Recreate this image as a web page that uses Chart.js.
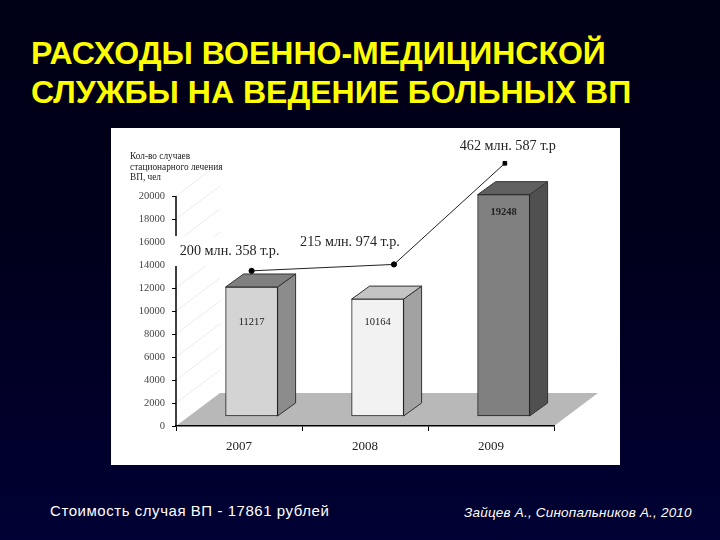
<!DOCTYPE html>
<html lang="ru">
<head>
<meta charset="utf-8">
<script src="https://cdn.jsdelivr.net/npm/chart.js@4"></script>
<style>
html,body{margin:0;padding:0;width:720px;height:540px;overflow:hidden;background:linear-gradient(180deg,#000016 0%,#00001c 45%,#000034 100%);}
canvas{position:absolute;left:0;top:0;}
.t{position:absolute;font-family:"Liberation Sans",Arial,sans-serif;white-space:nowrap;}
#title{left:31px;top:34px;color:#ffff00;font-weight:bold;font-size:32px;line-height:39px;}
#f1{left:50px;top:502px;color:#fff;font-size:15px;line-height:18px;letter-spacing:.55px;}
#f2{left:464px;top:505px;color:#fff;font-size:13.5px;line-height:16px;font-style:italic;letter-spacing:.2px;}
</style>
</head>
<body>
<div class="t" id="title">РАСХОДЫ ВОЕННО-МЕДИЦИНСКОЙ<br>СЛУЖБЫ НА ВЕДЕНИЕ БОЛЬНЫХ ВП</div>
<div class="t" id="f1">Стоимость случая ВП - 17861 рублей</div>
<div class="t" id="f2">Зайцев А., Синопальников А., 2010</div>
<div style="position:absolute;left:0;top:0;width:720px;height:540px"><canvas id="c" width="720" height="540"></canvas></div>
<script>
const categories = ['2007', '2008', '2009'];
const years = [2007, 2008, 2009];
const cases = [11217, 10164, 19248];
const costs = [200.358, 215.974, 462.587];
const costYearPos = [2007.0, 2008.13, 2009.01];
const costLabels = ['200 млн. 358 т.р.', '215 млн. 974 т.р.', '462 млн. 587 т.р'];
const axisTitleLines = ['Кол-во случаев', 'стационарного лечения', 'ВП, чел'];
const frontColors = ['#d4d4d4', '#f2f2f2', '#808080'];
const sideColors = ['#8c8c8c', '#a2a2a2', '#505050'];
const topColors = ['#808080', '#c4c4c4', '#606060'];
const costLabelOffsets = [[-22, -20], [-44, -22], [3, -17]];
const valueLabelDrops = [35, 23, 18];
const valueLabelBold = [false, false, true];
const axisTop = 20000;
const DX = 18, DY = 13, FX = 44, FY = 33;
const serif = '"Liberation Serif","Times New Roman",serif';

function poly(ctx, pts, fill, stroke) {
  ctx.beginPath();
  pts.forEach((p, i) => i ? ctx.lineTo(p[0], p[1]) : ctx.moveTo(p[0], p[1]));
  ctx.closePath();
  ctx.fillStyle = fill; ctx.fill();
  if (stroke) { ctx.strokeStyle = stroke; ctx.lineWidth = 1; ctx.stroke(); }
}

const scenePlugin = {
  id: 'scene',
  beforeDraw(chart) {
    const ctx = chart.ctx, a = chart.chartArea, ys = chart.scales.y;
    ctx.save();
    ctx.fillStyle = '#fff';
    ctx.fillRect(111, 128, 509, 337);
    ctx.strokeStyle = '#ececec'; ctx.lineWidth = 1;
    ys.ticks.forEach(t => {
      const y = ys.getPixelForValue(t.value);
      if (t.value === 0) return;
      ctx.beginPath(); ctx.moveTo(a.left, y); ctx.lineTo(a.left + FX, y - FY); ctx.stroke();
    });
    poly(ctx, [[a.left, a.bottom], [a.right, a.bottom], [a.right + FX, a.bottom - FY], [a.left + FX, a.bottom - FY]], '#b8b8b8');
    ctx.strokeStyle = '#000'; ctx.lineWidth = 1.5;
    ctx.beginPath(); ctx.moveTo(a.left, ys.getPixelForValue(axisTop)); ctx.lineTo(a.left, a.bottom); ctx.stroke();
    ctx.restore();
  },
  beforeDatasetDraw(chart, args) {
    if (args.index !== 0) return;
    const ctx = chart.ctx;
    ctx.save();
    chart.getDatasetMeta(0).data.forEach((b, i) => {
      const l = b.x - b.width / 2, r = b.x + b.width / 2, t = b.y, bt = b.base;
      poly(ctx, [[r, t], [r + DX, t - DY], [r + DX, bt - DY], [r, bt]], sideColors[i], '#333');
      poly(ctx, [[l, t], [l + DX, t - DY], [r + DX, t - DY], [r, t]], topColors[i], '#333');
    });
    ctx.restore();
  },
  afterDraw(chart) {
    const ctx = chart.ctx, ys = chart.scales.y;
    ctx.save();
    // white box behind the first cost label interrupts the value axis
    ctx.fillStyle = '#fff';
    ctx.fillRect(171, 236, 114, 30);
    ctx.textAlign = 'center'; ctx.textBaseline = 'middle';
    chart.getDatasetMeta(0).data.forEach((b, i) => {
      ctx.font = (valueLabelBold[i] ? 'bold ' : '') + '10.5px ' + serif;
      ctx.fillStyle = '#222';
      ctx.fillText(String(cases[i]), b.x, b.y + valueLabelDrops[i]);
    });
    ctx.font = '14.2px ' + serif;
    ctx.fillStyle = '#222';
    chart.getDatasetMeta(1).data.forEach((p, i) => {
      ctx.fillText(costLabels[i], p.x + costLabelOffsets[i][0], p.y + costLabelOffsets[i][1]);
    });
    ctx.textAlign = 'left';
    ctx.font = '9.3px ' + serif;
    const top = ys.getPixelForValue(axisTop);
    axisTitleLines.forEach((s, i) => ctx.fillText(s, 130, top - 39 + i * 10.2));
    ctx.restore();
  }
};

new Chart(document.getElementById('c'), {
  data: {
    labels: categories,
    datasets: [
      {
        type: 'bar', label: 'Кол-во случаев', order: 2,
        data: years.map((x, i) => ({ x, y: cases[i] })),
        xAxisID: 'xBar', yAxisID: 'yBar',
        backgroundColor: frontColors, borderColor: '#222', borderWidth: 1,
        borderSkipped: false, barThickness: 52
      },
      {
        type: 'line', label: 'Расходы', order: 1,
        data: costYearPos.map((x, i) => ({ x, y: costs[i] })),
        xAxisID: 'xBar', yAxisID: 'yCost', clip: false,
        borderColor: '#222', borderWidth: 1, tension: 0,
        pointRadius: 2.6, pointBackgroundColor: '#000', pointBorderColor: '#000',
        pointStyle: ['circle', 'circle', 'rect']
      }
    ]
  },
  options: {
    responsive: false, animation: false, devicePixelRatio: 1,
    layout: { padding: { left: 116, top: 150, right: 166, bottom: 84 } },
    plugins: { legend: { display: false }, tooltip: { enabled: false }, title: { display: false } },
    scales: {
      x: {
        type: 'category', position: 'bottom', offset: true,
        afterFit(s) { s.height = 30; },
        border: { color: '#000', width: 1.5 },
        grid: { offset: true, drawOnChartArea: false, drawTicks: true, tickLength: 5, color: '#000' },
        ticks: { color: '#222', font: { family: serif, size: 13 }, padding: 8, maxRotation: 0 }
      },
      y: {
        type: 'linear', position: 'left', min: 0, max: 24000,
        afterFit(s) { s.width = 60; },
        afterBuildTicks(s) { s.ticks = s.ticks.filter(t => t.value <= axisTop); },
        border: { display: false },
        grid: { drawOnChartArea: false, drawTicks: true, tickLength: 4, color: '#000' },
        ticks: { stepSize: 2000, color: '#444', font: { family: serif, size: 10.5 }, padding: 7, callback: v => String(v) }
      },
      xBar: { type: 'linear', display: false, offset: false, min: 2006.4, max: 2009.4 },
      yBar: { type: 'linear', display: false, min: -870, max: 23130 },
      yCost: { type: 'linear', display: false, min: -178, max: 495 }
    }
  },
  plugins: [scenePlugin]
});
</script>
</body>
</html>
